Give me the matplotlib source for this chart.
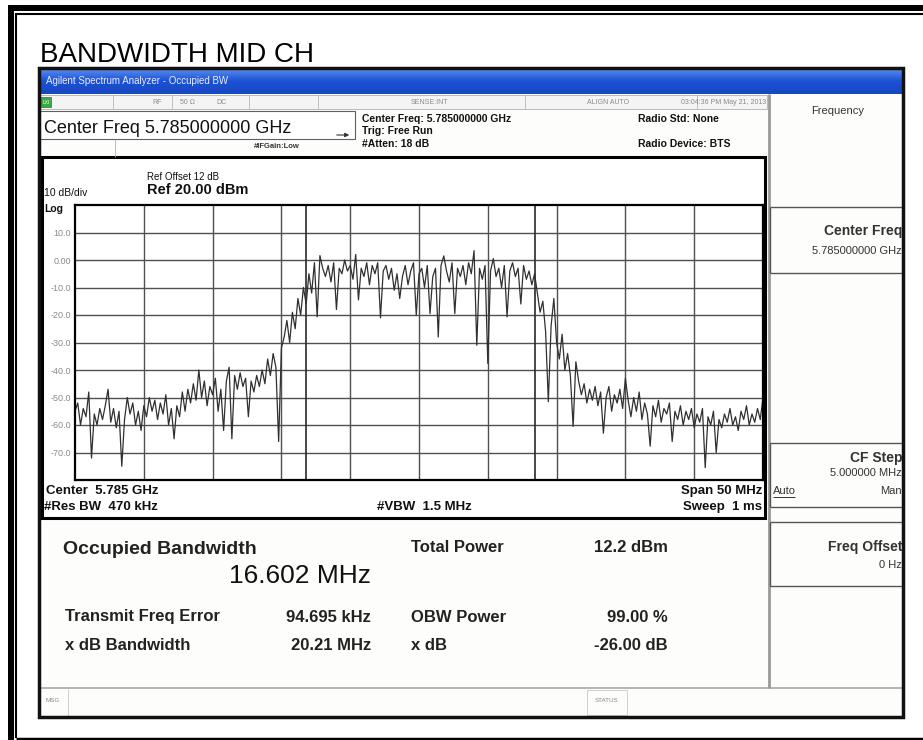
"""
Occupied bandwidth screenshot (mid channel) redrawn with matplotlib.
"""
import numpy as np
import matplotlib
matplotlib.use("Agg")
import matplotlib.pyplot as plt
from matplotlib.patches import Rectangle
from matplotlib.colors import LinearSegmentedColormap

plt.rcParams["font.family"] = ["Liberation Sans", "DejaVu Sans"]

# analyzer settings
center_mhz = 5785.0
span_mhz = 50.0
ref_level_dbm = 20.0
db_per_div = 10.0
n_points = 251

# measurement results
obw_mhz = 16.602
freq_error_khz = 94.695

y_tick_values = [10, 0, -10, -20, -30, -40, -50, -60, -70]
y_tick_labels = ["10.0", "0.00", "-10.0", "-20.0", "-30.0", "-40.0", "-50.0", "-60.0", "-70.0"]

# trace (dBm), 5760 -> 5810 MHz
trace_dbm = [
    -55, -52, -60, -54, -57, -48, -72, -56, -60, -54,
    -58, -53, -47, -59, -54, -61, -55, -75, -58, -50,
    -56, -52, -60, -55, -62, -53, -57, -50, -55, -51,
    -58, -52, -56, -49, -60, -54, -65, -53, -57, -48,
    -55, -47, -52, -45, -51, -40, -50, -44, -53, -46,
    -49, -43, -55, -47, -62, -44, -39, -65, -42, -47,
    -41, -46, -43, -57, -44, -48, -42, -46, -40, -45,
    -36, -42, -34, -39, -66, -32, -28, -22, -30, -19,
    -25, -14, -20, -10, -16, -5, -12, -1, -20.7, 1.6,
    -3, -6, -2, -8, -1, -18, -3, -5, 0, -4,
    -2, -7, 2, -14.5, -3, -6, -1, -9, -2, -5,
    -1, -21, -4, -2, -7, -3, -11, -5, -14, -6,
    -2, -9, -4, -1, -20, -5, -3, -10, -2, -19.5,
    -6, -3, -28, -2, 1.5, -4, -8, -1, -19.5, -3,
    -6, -2, -9, -1, -5, 3.4, -31, -3, -7, -2,
    -37.6, -4, 0.5, -6, -3, -10, -2, -20.7, -4, -1,
    -6, -3, -16, -2, -7, -4, -9, -5, -12, -19,
    -15, -26, -51.5, -24, -14, -30, -36, -27, -40, -34,
    -42, -60.5, -37, -44, -49, -45, -52, -47, -51, -46,
    -53, -48, -63, -50, -46, -55, -49, -52, -47, -54,
    -43, -51, -57, -50, -55, -48, -58, -52, -56, -67.7,
    -53, -57, -51, -59, -54, -56, -52, -66, -55, -58,
    -53, -60, -55, -58, -54, -61, -56, -59, -54, -75.5,
    -57, -60, -55, -70, -58, -61, -56, -59, -54, -60,
    -57, -62, -55, -58, -53, -60, -56, -59, -54, -58,
    -50,
]

W, H = 923, 740
fig = plt.figure(figsize=(W / 100, H / 100), dpi=100)
fig.patch.set_facecolor("white")
bg = fig.add_axes([0, 0, 1, 1], zorder=0)
bg.set_xlim(0, W)
bg.set_ylim(H, 0)
bg.axis("off")


def box(x0, y0, x1, y1, fc="none", ec="black", lw=1.0, z=1):
    bg.add_patch(Rectangle((x0, y0), x1 - x0, y1 - y0, facecolor=fc,
                           edgecolor=ec, linewidth=lw, zorder=z))


def line(xs, ys, color="black", lw=1.0, z=2):
    bg.plot(xs, ys, color=color, lw=lw, zorder=z, solid_capstyle="butt")


def txt(x, y, s, size=8, weight="normal", ha="left", color="#111111", va="center", **kw):
    bg.text(x, y, s, fontsize=size, fontweight=weight, ha=ha, va=va,
            color=color, zorder=5, **kw)


# page frame
box(8, 5, 14, 740, fc="black", ec="none")
box(8, 5, 923, 11, fc="black", ec="none")
line([16, 16], [13, 738], lw=1.5)
line([16, 923], [13.5, 13.5], lw=1.5)
line([16, 923], [738.5, 738.5], lw=2.5)

txt(40, 62, "BANDWIDTH MID CH", size=20, va="baseline", color="black")

# screenshot body
box(39, 68, 903, 717, fc="#fdfdfb", ec="none", z=0.5)

# blue title bar
blue = LinearSegmentedColormap.from_list("bar", ["#5d8ff0", "#1c52d6", "#1747c0"])
bg.imshow(np.linspace(0, 1, 32).reshape(-1, 1), cmap=blue, aspect="auto",
          extent=(39, 903, 94, 68), zorder=1)
txt(46, 81, "Agilent Spectrum Analyzer - Occupied BW", size=7, color="#e8eeff")

# status row
box(39, 95, 767, 109, fc="#f4f4f4", ec="#b0b0b0", lw=0.6)
for sx in [113, 172, 249, 318, 525, 697]:
    line([sx, sx], [95, 109], color="#b8b8b8", lw=0.6)
box(41, 97, 51, 107, fc="#3aa845", ec="#2a7a30", lw=0.5, z=3)
txt(46, 102, "LXI", size=3.5, ha="center", color="white")
for sx, s in [(157, "RF"), (187, "50 \u03a9"), (221, "DC"), (429, "SENSE:INT"), (608, "ALIGN AUTO")]:
    txt(sx, 102, s, size=5, ha="center", color="#8a8a8a")
txt(766, 102, "03:04:36 PM May 21, 2013", size=5, ha="right", color="#8a8a8a")

# settings header
box(40, 111, 355, 139, fc="white", ec="#606060", lw=0.8)
line([115, 115], [139, 157], color="#b0b0b0", lw=0.6)
txt(44, 133, "Center Freq 5.785000000 GHz", size=13, va="baseline")
txt(254, 146, "#IFGain:Low", size=5.5, weight="bold", color="#333333")
bg.annotate("", xy=(352, 135), xytext=(334, 135),
            arrowprops=dict(arrowstyle="-|>", lw=0.8, color="#333333", mutation_scale=6))
txt(362, 119, "Center Freq: 5.785000000 GHz", size=7.5, weight="bold")
txt(362, 131, "Trig: Free Run", size=7.5, weight="bold")
txt(362, 144, "#Atten: 18 dB", size=7.5, weight="bold")
txt(638, 119, "Radio Std: None", size=7.5, weight="bold")
txt(638, 144, "Radio Device: BTS", size=7.5, weight="bold")

# trace window
box(42, 157, 765, 518, fc="white", ec="black", lw=2.2, z=1)
txt(147, 177, "Ref Offset 12 dB", size=7)
txt(147, 190, "Ref 20.00 dBm", size=10.5, weight="bold")
txt(44, 193, "10 dB/div", size=7.5)
txt(44, 209, "Log", size=7.5, weight="bold")
txt(46, 491, "Center  5.785 GHz", size=9.5, weight="bold")
txt(44, 507, "#Res BW  470 kHz", size=9.5, weight="bold")
txt(377, 507, "#VBW  1.5 MHz", size=9.5, weight="bold")
txt(762, 491, "Span 50 MHz", size=9.5, weight="bold", ha="right")
txt(762, 507, "Sweep  1 ms", size=9.5, weight="bold", ha="right")

# results
txt(63, 549, "Occupied Bandwidth", size=14, weight="bold", color="#222222")
txt(371, 576, "16.602 MHz", size=19, ha="right", color="#111111")
txt(411, 547, "Total Power", size=12, weight="bold", color="#222222")
txt(668, 547, "12.2 dBm", size=12, weight="bold", ha="right", color="#222222")
txt(65, 617, "Transmit Freq Error", size=12, weight="bold", color="#222222")
txt(371, 617, "94.695 kHz", size=12, weight="bold", ha="right", color="#222222")
txt(411, 617, "OBW Power", size=12, weight="bold", color="#222222")
txt(668, 617, "99.00 %", size=12, weight="bold", ha="right", color="#222222")
txt(65, 645, "x dB Bandwidth", size=12, weight="bold", color="#222222")
txt(371, 645, "20.21 MHz", size=12, weight="bold", ha="right", color="#222222")
txt(411, 645, "x dB", size=12, weight="bold", color="#222222")
txt(668, 645, "-26.00 dB", size=12, weight="bold", ha="right", color="#222222")

# bottom status bar
line([41, 903], [688, 688], color="#a8a8a8", lw=1.2)
line([68, 68], [689, 716], color="#c8c8c8", lw=0.6)
txt(45, 701, "MSG", size=4.5, color="#888888")
box(587, 690, 627, 715, fc="none", ec="#c8c8c8", lw=0.6)
txt(607, 701, "STATUS", size=4.5, ha="center", color="#888888")

# softkey panel
line([768.5, 768.5], [94, 688], color="#9a9a9a", lw=2)
txt(838, 111, "Frequency", size=8, ha="center", color="#333333")
for y0, y1 in [(207, 273), (443, 507), (522, 586)]:
    line([770, 903], [y0, y0], color="#555555", lw=1)
    line([770, 903], [y1, y1], color="#555555", lw=1)
    line([770, 770], [y0, y1], color="#555555", lw=1)
txt(902, 231, "Center Freq", size=10, weight="bold", ha="right", color="#333333")
txt(902, 251, "5.785000000 GHz", size=8, ha="right", color="#333333")
txt(902, 458, "CF Step", size=10, weight="bold", ha="right", color="#333333")
txt(902, 473, "5.000000 MHz", size=8, ha="right", color="#333333")
txt(773, 491, "Auto", size=8, color="#333333")
line([773, 795], [497, 497], color="#333333", lw=0.7)
txt(902, 491, "Man", size=8, ha="right", color="#333333")
txt(902, 547, "Freq Offset", size=10, weight="bold", ha="right", color="#333333")
txt(902, 565, "0 Hz", size=8, ha="right", color="#333333")

# screenshot outline
box(39, 68, 903, 717, fc="none", ec="#111111", lw=2.5, z=6)

# graticule and trace
ax = fig.add_axes([75 / W, 1 - 480 / H, 688 / W, 275 / H], zorder=2)
ax.set_facecolor("white")
freq_mhz = np.linspace(center_mhz - span_mhz / 2, center_mhz + span_mhz / 2, n_points)
ax.set_xlim(center_mhz - span_mhz / 2, center_mhz + span_mhz / 2)
ax.set_ylim(ref_level_dbm - 10 * db_per_div, ref_level_dbm)
ax.set_xticks([center_mhz + span_mhz / 10 * k for k in range(-4, 5)])
ax.set_xticklabels([])
ax.set_yticks(y_tick_values)
ax.set_yticklabels(y_tick_labels)
ax.tick_params(length=0, pad=3)
ax.tick_params(axis="y", labelsize=6.5, labelcolor="#8a8a8a")
ax.grid(True, color="#505050", lw=1.0)
for s in ax.spines.values():
    s.set_color("black")
    s.set_linewidth(1.6)

obw_center = center_mhz + freq_error_khz / 1000
ax.axvline(obw_center - obw_mhz / 2, color="#2a2a2a", lw=1.2)
ax.axvline(obw_center + obw_mhz / 2, color="#2a2a2a", lw=1.2)
ax.plot(freq_mhz, trace_dbm, color="#303030", lw=0.9)

fig.savefig("out.png", dpi=100)
